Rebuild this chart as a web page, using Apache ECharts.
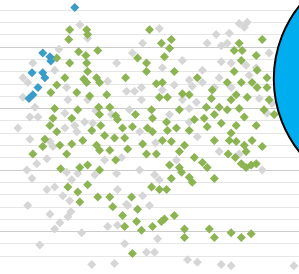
<!DOCTYPE html>
<html>
<head>
<meta charset="utf-8">
<script src="https://cdn.jsdelivr.net/npm/echarts@6/dist/echarts.min.js"></script>
<style>
  html, body { margin: 0; padding: 0; background: #fff; }
  #chart { width: 299px; height: 274px; }
</style>
</head>
<body>
<div id="chart"></div>
<script>
// gray diamonds (other items)
var grayPoints = [
  [26.7,21.8],[29.3,20.7],[19.7,19.8],[39,18.7],[44.3,19.5],[36,17.2],[11,18.7],[22.3,16.7],
  [42.3,16.4],[45,16.4],[47.3,16.7],[22.7,15.7],[32,14.8],[11.7,15.1],[10,14.3],[12.7,14.3],
  [6,13.4],[25,13.6],[28.3,13.9],[31,13.8],[46.7,13.1],[7.7,17.5],[9.3,17.1],[7.7,15.9],
  [18.3,18.1],[21.7,14.6],[29.3,15.7],[37.3,14.5],[47.3,15.7],[25.7,13.1],[53.3,21.5],[72.3,21.0],
  [69.3,20.3],[74,20.1],[61,18.9],[74,18.8],[67.7,18.1],[63.3,17.3],[64.3,16.8],[73.3,17.5],
  [71.7,16.7],[58.3,16.9],[54.3,18.3],[65.7,15.5],[63.3,15.0],[56.7,14.5],[63.3,13.9],[54.3,16.5],
  [80,21.9],[82.7,22.0],[81.7,21.6],[76.7,21.1],[76,20.3],[77.3,18.7],[82.3,18.5],[83.3,17.7],
  [77.3,16.7],[10,12.5],[16.7,12.3],[15.7,10.9],[12.3,10.5],[9,10.0],[10.7,9.3],[15.7,8.4],
  [18.3,8.6],[21,7.9],[24,9.2],[26,9.7],[9.3,7.1],[16.7,6.4],[23.7,6.6],[20,5.7],
  [18.3,5.2],[27.3,4.9],[13.3,3.9],[30.7,2.3],[38.3,2.4],[36,5.4],[39.3,5.5],[41.7,4.0],
  [42.7,7.1],[49,3.3],[40.7,11.0],[39,9.7],[39.3,8.4],[47.7,7.9],[42.3,7.2],[66,12.7],
  [73.3,11.5],[87.7,10.0],[53.3,9.2],[51.7,9.6],[52,12.2],[59,10.8],[52.7,4.4],[51.7,3.3],
  [62.7,2.7],[66,2.5],[74,2.3],[77.3,2.2],[80,11.3],[98.3,2.2],[17.7,11.9],[22.3,9.8],
  [23.3,7.5],[22.7,6.2],[47.7,20.3],[85.7,18.3],[90,19.5],[67.7,17.1],[61,15.7],[86.7,15.8],
  [91,15.4],[89.3,14.6],[43.3,14.9],[21.7,13.4],[35,10.8],[31.7,9.6],[46.7,10.0],[50,7.1]
];

// green diamonds (main group)
var greenPoints = [
  [23.3,21.4],[29,21.4],[29.3,21.0],[23,20.6],[26.3,19.6],[32.7,19.7],[28.7,19.3],[23.3,18.7],
  [29,18.7],[29.3,18.0],[21.7,17.5],[28,17.4],[32.3,17.5],[29,17.1],[33.3,17.1],[25.7,16.3],
  [19,16.9],[17,16.3],[30,16.0],[35.7,16.1],[33,15.1],[36.7,15.1],[24,14.2],[17.7,14.2],
  [38.7,14.4],[42,17.5],[45.3,14.5],[46,19.1],[50,21.4],[49,18.7],[49,18.0],[33.7,13.6],
  [41,13.4],[44.3,13.5],[19,13.1],[16.7,13.6],[19,19.1],[18.3,15.0],[26,14.9],[33.3,14.5],
  [39.3,14.1],[49.3,13.4],[35,12.8],[38.3,12.6],[54,20.3],[57.3,20.6],[56.7,19.9],[55,19.2],
  [58.3,18.0],[54.3,17.1],[52.3,17.0],[66,17.5],[53.3,15.9],[56,15.9],[61,16.2],[63.3,16.1],
  [50.7,14.9],[51,14.2],[70.7,15.8],[69,15.1],[73.3,15.1],[68.3,14.2],[71.7,14.5],[74,13.8],
  [69.3,13.5],[59,13.4],[51,13.1],[56,13.2],[71,16.5],[87.7,20.6],[78.3,19.7],[81,19.7],
  [85.7,19.3],[80.7,18.9],[78.3,18.0],[86,18.1],[89.3,17.5],[80.7,17.1],[84.3,17.1],[86,16.7],
  [89.3,16.7],[76,17.1],[82.7,15.9],[77.3,15.7],[91.7,14.5],[88.3,14.9],[80,15.0],[76,14.9],
  [81.7,14.3],[79,13.6],[85.7,13.6],[77.3,13.0],[80,20.3],[55.7,13.9],[79,16.1],
  [15,12.5],[14.3,11.9],[11,11.3],[22.3,11.3],[24,12.1],[27.7,12.4],[32.3,12.0],[33.3,11.6],
  [36.7,11.6],[42.7,11.7],[47.7,12.1],[49,11.3],[26.7,10.2],[29.3,10.4],[33.3,10.0],[20.3,10.1],
  [22.7,8.6],[29.3,8.8],[26,8.2],[32.7,7.8],[36.7,7.8],[26.7,7.4],[44,7.8],[37.7,7.0],
  [46,6.8],[41,6.3],[45.7,5.8],[41.7,5.4],[47.3,5.1],[44.3,3.2],[54.3,12.4],[57.3,12.3],
  [71.7,12.4],[76.7,12.4],[79,12.3],[81.7,12.0],[84.3,12.4],[87.7,11.9],[82.3,11.5],[76.3,11.3],
  [78.7,11.0],[80.7,10.5],[82.3,10.2],[84,10.4],[85.7,10.5],[52.3,11.3],[56.7,10.4],[60,10.2],
  [60.7,9.8],[57.3,9.3],[65,11.0],[67.7,10.6],[69.3,10.2],[63.3,9.4],[64.3,9.0],[71.7,9.3],
  [50.7,8.6],[53.3,8.4],[55.7,8.4],[58.3,6.3],[55,6.0],[54,5.8],[51,5.4],[61.7,5.2],
  [61.7,4.5],[70,5.2],[71.7,4.5],[77.3,4.9],[80.7,4.5],[84,4.8],[41.7,12.6],[30.7,13.2],
  [20,12.0],[38.7,10.8],[60,14.9],[63.3,13.2],[61.7,12.0],[65,14.1],[90,15.7],[60,11.5]
];

// blue diamonds (highlighted group)
var bluePoints = [
  [25,23.2],[14.3,19.5],[16.7,19.2],[17,18.85],[10.7,17.9],[14.3,17.9],[15,17.5],[12.7,16.7],
  [11,16.1],[9.7,15.8]
];

// big bubble on the right edge
var bubblePoint = [[130.7,17.4]];

var yMin = 3, yMax = 23;
var lineLight = '#e6e6e6', lineDark = '#cccccc';

var chart = echarts.init(document.getElementById('chart'));

function diamonds(name, data, color) {
  return {
    name: name,
    type: 'scatter',
    symbol: 'diamond',
    symbolSize: 9,
    clip: false,
    silent: true,
    data: data,
    itemStyle: { color: color, opacity: 1 }
  };
}

chart.setOption({
  animation: false,
  grid: { left: 0, right: 0, top: 10, bottom: 18, containLabel: false },
  xAxis: {
    type: 'value',
    min: 0,
    max: 100,
    show: false
  },
  yAxis: {
    type: 'value',
    min: yMin,
    max: yMax,
    interval: 1,
    axisLine: { show: false },
    axisTick: { show: false },
    axisLabel: { show: false },
    splitLine: {
      show: true,
      lineStyle: {
        width: 1,
        color: [lineLight, lineLight, lineDark, lineLight, lineLight]
      }
    }
  },
  series: [
    diamonds('other', grayPoints, '#d6d6d6'),
    diamonds('main', greenPoints, '#8cb452'),
    diamonds('highlight', bluePoints, '#3a9cc8'),
    {
      name: 'bubble',
      type: 'scatter',
      symbol: 'circle',
      symbolSize: 234,
      clip: false,
      silent: true,
      data: bubblePoint,
      itemStyle: { color: '#00aeef', borderColor: '#000', borderWidth: 2, opacity: 1 }
    }
  ]
});
</script>
</body>
</html>
